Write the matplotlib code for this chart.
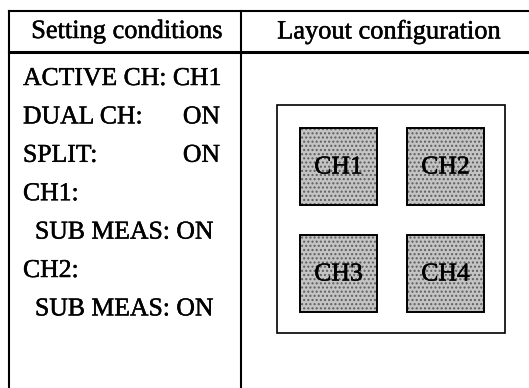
import matplotlib.pyplot as plt
import matplotlib.patheffects as pe
from matplotlib.patches import Rectangle

plt.rcParams['font.family'] = ['Liberation Serif', 'DejaVu Serif']

headers = ['Setting conditions', 'Layout configuration']
# (label, value, indented)
settings = [
    ('ACTIVE CH: CH1', '', False),
    ('DUAL CH:', 'ON', False),
    ('SPLIT:', 'ON', False),
    ('CH1:', '', False),
    ('SUB MEAS: ON', '', True),
    ('CH2:', '', False),
    ('SUB MEAS: ON', '', True),
]
channels = ['CH1', 'CH2', 'CH3', 'CH4']

W, H = 529, 388
fig = plt.figure(figsize=(W / 100, H / 100), dpi=100)
ax = fig.add_axes([0, 0, 1, 1])
ax.set_xlim(0, W)
ax.set_ylim(H, 0)
ax.axis('off')

# scanned print looks a bit heavier than the font
heavy = [pe.withStroke(linewidth=0.35, foreground='black')]

# table lines
ax.plot([8.5, W], [10.5, 10.5], color='black', lw=1.5)
ax.plot([8.5, W], [51.5, 51.5], color='black', lw=2.2)
ax.plot([8.5, 8.5], [10.5, H], color='black', lw=1.5)
ax.plot([240.5, 240.5], [10.5, H], color='black', lw=1.5)

ax.text(127, 32, headers[0], fontsize=19, ha='center', va='center', path_effects=heavy)
ax.text(389, 32, headers[1], fontsize=19, ha='center', va='center', path_effects=heavy)

y0, dy = 79, 38.4
for i, (label, value, indent) in enumerate(settings):
    y = y0 + i * dy
    ax.text(35 if indent else 23, y, label, fontsize=18.5, ha='left', va='center',
            path_effects=heavy)
    if value:
        ax.text(220, y, value, fontsize=18.5, ha='right', va='center', path_effects=heavy)

# layout frame
ax.add_patch(Rectangle((277, 105), 228, 228, fill=False, ec='black', lw=1.2))
size, gap = 77, 30
for k, name in enumerate(channels):
    r, c = divmod(k, 2)
    x = 300 + c * (size + gap)
    y = 128 + r * (size + gap)
    ax.add_patch(Rectangle((x, y), size, size, fc='#c4c4c4', ec='#5e5e5e', lw=0,
                           hatch='....'))
    ax.add_patch(Rectangle((x, y), size, size, fill=False, ec='black', lw=1.4))
    ax.text(x + size / 2, y + size / 2 + 1, name, fontsize=18.5, ha='center', va='center',
            path_effects=heavy)

fig.savefig('out.png', dpi=100)
